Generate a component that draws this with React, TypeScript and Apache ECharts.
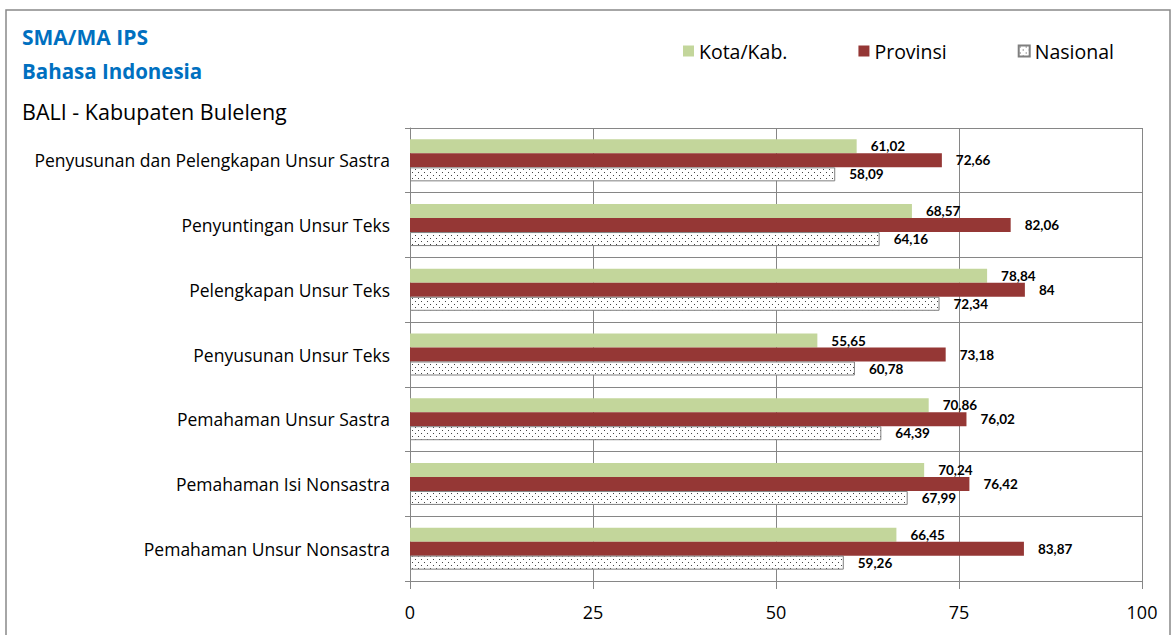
import React, { useEffect, useRef } from "react";
import * as echarts from "echarts";

const categories = [
  "Penyusunan dan Pelengkapan Unsur Sastra",
  "Penyuntingan Unsur Teks",
  "Pelengkapan Unsur Teks",
  "Penyusunan Unsur Teks",
  "Pemahaman Unsur Sastra",
  "Pemahaman Isi Nonsastra",
  "Pemahaman Unsur Nonsastra",
];
const kotaValues = [61.02, 68.57, 78.84, 55.65, 70.86, 70.24, 66.45];
const provinsiValues = [72.66, 82.06, 84, 73.18, 76.02, 76.42, 83.87];
const nasionalValues = [58.09, 64.16, 72.34, 60.78, 64.39, 67.99, 59.26];
const seriesNames = ["Kota/Kab.", "Provinsi", "Nasional"];
const xTicks = [0, 25, 50, 75, 100];

const FONT = "'Open Sans', sans-serif";
const LFONT = "Lato, sans-serif";

function makeDots(): string {
  const c = document.createElement("canvas");
  c.width = 6;
  c.height = 6;
  const ctx = c.getContext("2d")!;
  ctx.fillStyle = "#ffffff";
  ctx.fillRect(0, 0, 6, 6);
  ctx.fillStyle = "#444444";
  ctx.fillRect(1, 1, 1, 1);
  ctx.fillRect(4, 4, 1, 1);
  return c.toDataURL();
}

const fmt = (v: number) => String(v).replace(".", ",");

export default function App() {
  const ref = useRef<HTMLDivElement>(null);
  useEffect(() => {
    document.body.style.margin = "0";
    const chart = echarts.init(ref.current!, null, { renderer: "svg" });
    const dots = makeDots();
    const label = {
      show: true,
      position: "right" as const,
      distance: 14,
      color: "#000",
      fontFamily: LFONT,
      fontWeight: "bold" as const,
      fontSize: 13.5,
      formatter: (p: any) => fmt(p.value),
    };
    chart.setOption({
      animation: false,
      backgroundColor: "#fff",
      grid: { left: 410, right: 34, top: 128, bottom: 54 },
      legend: {
        data: seriesNames,
        left: 678,
        top: 36,
        itemWidth: 11,
        itemHeight: 11,
        itemGap: 71,
        icon: "rect",
        textStyle: { fontFamily: FONT, fontSize: 19.5, color: "#000" },
      },
      xAxis: {
        type: "value",
        min: 0,
        max: 100,
        interval: 25,
        axisLine: { show: true, lineStyle: { color: "#868686" } },
        axisTick: { show: true, length: 8, lineStyle: { color: "#868686" } },
        splitLine: { show: true, lineStyle: { color: "#868686" } },
        axisLabel: {
          color: "#000",
          fontFamily: FONT,
          fontSize: 18,
          margin: 22,
          formatter: (v: number) => (xTicks.includes(v) ? String(v) : ""),
        },
      },
      yAxis: {
        type: "category",
        inverse: true,
        data: categories,
        axisLine: { show: true, lineStyle: { color: "#868686" } },
        axisTick: { show: true, length: 5, lineStyle: { color: "#868686" } },
        splitLine: { show: true, lineStyle: { color: "#868686" } },
        axisLabel: {
          color: "#000",
          fontFamily: FONT,
          fontSize: 17.5,
          margin: 20,
        },
      },
      series: [
        {
          name: seriesNames[0],
          type: "bar",
          data: kotaValues,
          barWidth: 14,
          barGap: "0%",
          itemStyle: { color: "#C3D69B" },
          label,
        },
        {
          name: seriesNames[1],
          type: "bar",
          data: provinsiValues,
          barWidth: 14,
          barGap: "0%",
          itemStyle: { color: "#953735" },
          label,
        },
        {
          name: seriesNames[2],
          type: "bar",
          data: nasionalValues,
          barWidth: 14,
          barGap: "0%",
          itemStyle: {
            color: { image: dots, repeat: "repeat" },
            borderColor: "#7F7F7F",
            borderWidth: 1,
          },
          label,
        },
      ],
      graphic: [
        {
          type: "rect",
          shape: { x: 6, y: 10, width: 1164, height: 640 },
          style: { fill: "none", stroke: "#898989", lineWidth: 1.5 },
          silent: true,
        },
        {
          type: "text",
          left: 22,
          top: 26,
          style: { text: "SMA/MA IPS", fill: "#0070C0", font: `bold 21px ${FONT}` },
        },
        {
          type: "text",
          left: 22,
          top: 60,
          style: { text: "Bahasa Indonesia", fill: "#0070C0", font: `bold 20.5px ${FONT}` },
        },
        {
          type: "text",
          left: 22,
          top: 100,
          style: { text: "BALI - Kabupaten Buleleng", fill: "#000", font: `21.5px ${FONT}` },
        },
      ],
    });
    return () => chart.dispose();
  }, []);
  return <div ref={ref} style={{ position: "fixed", left: 0, top: 0, width: 1176, height: 635 }} />;
}
